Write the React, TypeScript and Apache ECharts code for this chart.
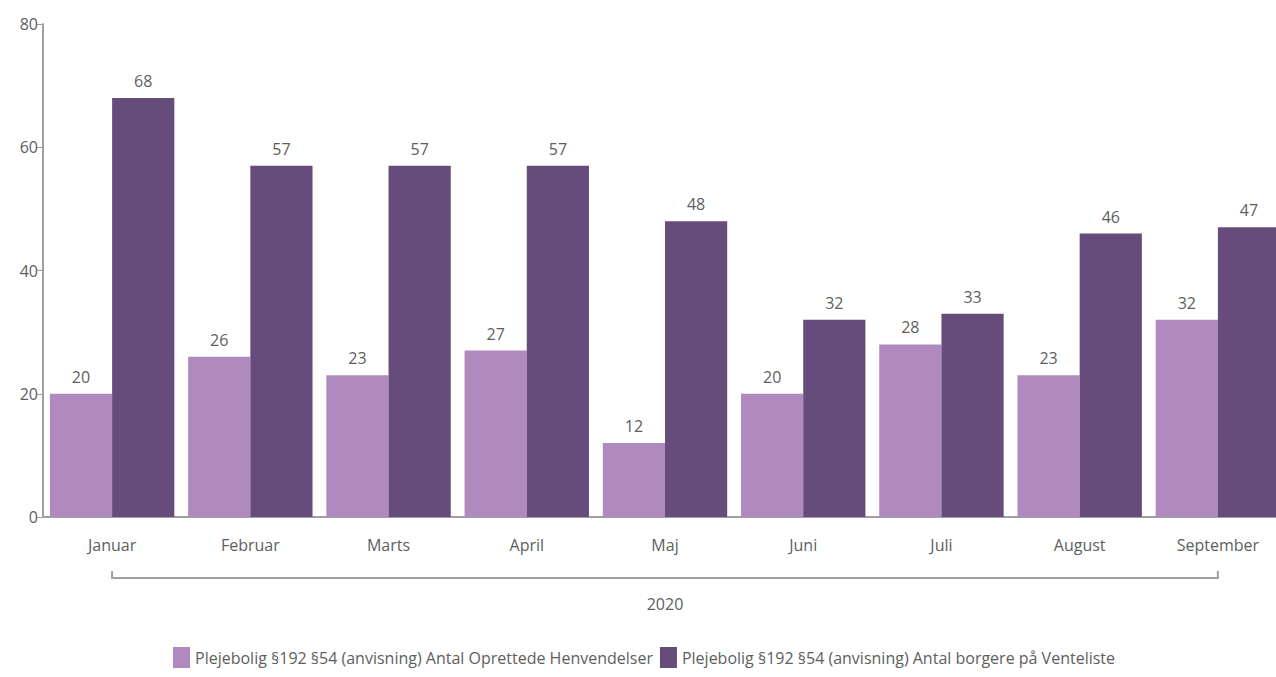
import React, { useEffect, useRef } from "react";
import * as echarts from "echarts";

const categories = ["Januar", "Februar", "Marts", "April", "Maj", "Juni", "Juli", "August", "September"];
const seriesNames = [
  "Plejebolig §192 §54 (anvisning) Antal Oprettede Henvendelser",
  "Plejebolig §192 §54 (anvisning) Antal borgere på Venteliste",
];
const henvendelser = [20, 26, 23, 27, 12, 20, 28, 23, 32];
const venteliste = [68, 57, 57, 57, 48, 32, 33, 46, 47];
const groupLabel = "2020";
const yTicks = { min: 0, max: 80, interval: 20 };

const FONT = "'Open Sans', 'Noto Sans', sans-serif";
const TXT = "#5e5e5e";
const AXIS = "#a0a0a0";

export default function App() {
  const ref = useRef<HTMLDivElement>(null);
  useEffect(() => {
    if (!ref.current) return;
    const chart = echarts.init(ref.current, undefined, { renderer: "svg" });
    const option: any = {
      animation: false,
      textStyle: { fontFamily: FONT },
      grid: { left: 43, right: 3, top: 24, bottom: 160, containLabel: false },
      legend: {
        bottom: 4,
        left: 168,
        icon: "rect",
        itemWidth: 17,
        itemHeight: 21,
        itemGap: 7,
        textStyle: { color: TXT, fontSize: 16, fontFamily: FONT },
        data: seriesNames,
      },
      xAxis: {
        type: "category",
        data: categories,
        axisLine: { lineStyle: { color: AXIS, width: 2 } },
        axisTick: { alignWithLabel: true, length: 9, lineStyle: { color: AXIS } },
        axisLabel: { color: TXT, fontSize: 16, margin: 20, fontFamily: FONT },
      },
      yAxis: {
        type: "value",
        min: yTicks.min,
        max: yTicks.max,
        interval: yTicks.interval,
        splitLine: { show: false },
        axisLine: { show: true, lineStyle: { color: AXIS, width: 2 } },
        axisTick: { show: true, length: 6, lineStyle: { color: AXIS } },
        axisLabel: { color: TXT, fontSize: 16, margin: 5, fontFamily: FONT },
      },
      series: [
        {
          name: seriesNames[0],
          type: "bar",
          data: henvendelser,
          barGap: "0%",
          barCategoryGap: "10%",
          itemStyle: { color: "#b08abe" },
          label: { show: true, position: "top", distance: 9, color: TXT, fontSize: 16, fontFamily: FONT },
        },
        {
          name: seriesNames[1],
          type: "bar",
          data: venteliste,
          barGap: "0%",
          barCategoryGap: "10%",
          itemStyle: { color: "#654c7a" },
          label: { show: true, position: "top", distance: 9, color: TXT, fontSize: 16, fontFamily: FONT },
        },
      ],
    };
    chart.setOption(option);
    const x0 = chart.convertToPixel({ xAxisIndex: 0 }, categories[0]) as number;
    const x1 = chart.convertToPixel({ xAxisIndex: 0 }, categories[categories.length - 1]) as number;
    const y0 = chart.convertToPixel({ yAxisIndex: 0 }, 0) as number;
    const yb = y0 + 61;
    chart.setOption({
      graphic: [
        {
          type: "polyline",
          shape: { points: [[x0, yb - 7], [x0, yb], [x1, yb], [x1, yb - 7]] },
          style: { stroke: AXIS, lineWidth: 2, fill: null },
        },
        {
          type: "text",
          x: (x0 + x1) / 2,
          y: yb + 26,
          style: {
            text: groupLabel,
            fill: TXT,
            fontSize: 16,
            fontFamily: FONT,
            textAlign: "center",
            textVerticalAlign: "middle",
          },
        },
      ],
    });
    return () => chart.dispose();
  }, []);
  return (
    <div style={{ position: "absolute", left: 0, top: 0, width: 1276, height: 677, overflow: "hidden", background: "#fff" }}>
      <div ref={ref} style={{ width: 1290, height: 677 }} />
    </div>
  );
}
